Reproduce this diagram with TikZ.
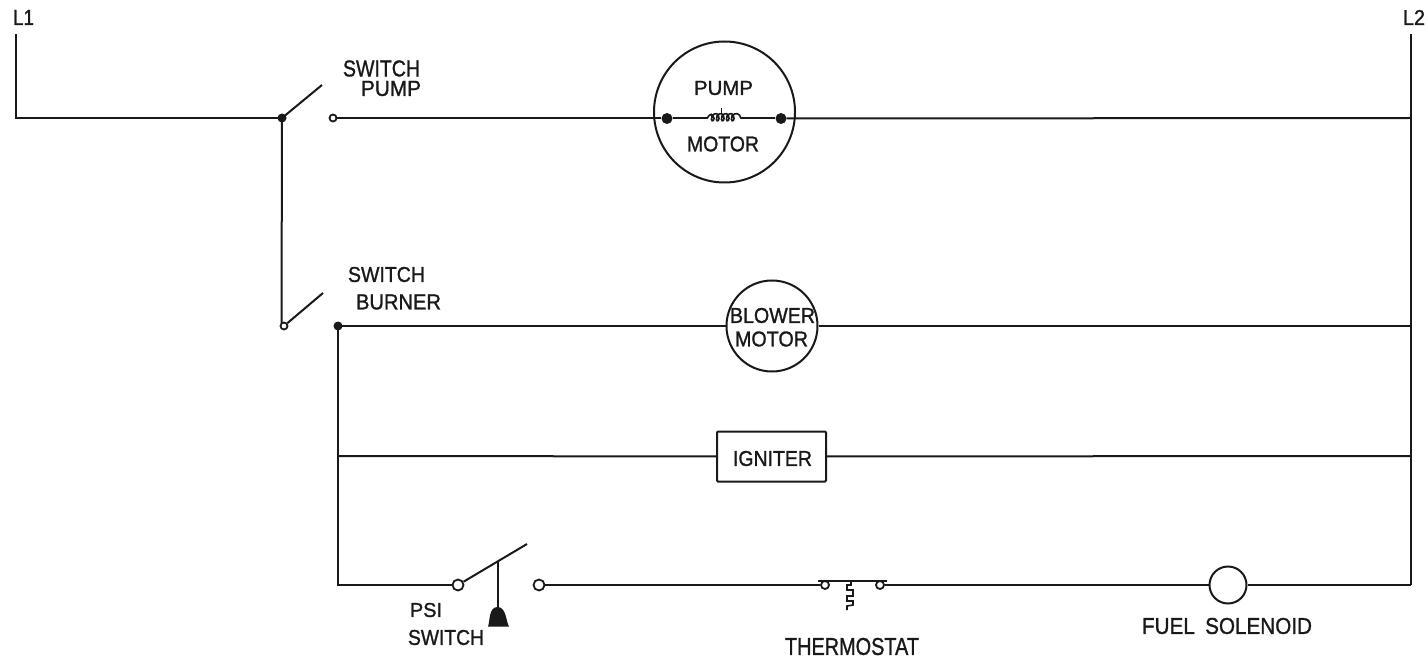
\documentclass[tikz,border=0pt]{standalone}
\usepackage{fontspec}
\setmainfont[FakeBold=1.2]{Liberation Sans}
\newcommand{\lab}[3]{\resizebox{#1pt}{#2pt}{#3}}
\tikzset{
  wire/.style={line width=2pt,black!90},
  thin wire/.style={line width=1.6pt,black!90},
  lbl/.style={inner sep=0pt,outer sep=0pt,text=black!90},
  contact/.style={circle,draw=black!90,line width=1.8pt,fill=white,inner sep=0pt,minimum size=#1pt},
  dot/.style={circle,fill=black!90,inner sep=0pt,minimum size=#1pt},
  ring/.style={circle,draw=black!90,line width=2pt,fill=none,inner sep=0pt,minimum size=#1pt},
}
\begin{document}
\begin{tikzpicture}[x=1pt,y=-1pt]
\useasboundingbox (0,0) rectangle (1428,663);
% rails
\coordinate (L1top) at (15.5,34);
\coordinate (L1c) at (15.5,118);
\coordinate (L2top) at (1411,34);
\coordinate (L2a) at (1411,118);
\coordinate (L2b) at (1411,326);
\coordinate (L2c) at (1411,456);
\coordinate (L2d) at (1411,585);
\node[lbl] (l1) at (23.5,17.5) {\lab{21}{15}{L1}};
\node[lbl] (l2) at (1414,17.5) {\lab{22}{15}{L2}};
% nodes
\node[dot=9] (j1) at (282,118) {};
\node[contact=7] (c1) at (333,118) {};
\node[contact=7] (s2) at (284,326) {};
\node[dot=9] (c2) at (338,326) {};
\coordinate (v2) at (281.5,323);
\coordinate (blade1) at (322,85);
\coordinate (blade2) at (323,293);
\coordinate (bot) at (338,585);
\coordinate (ign) at (338,456);
\node[ring=141] (pm) at (724.5,112) {};
\node[dot=11] (pl) at (667,118.5) {};
\node[dot=11] (pr) at (781,118.5) {};
\coordinate (cl) at (707,118.5);
\coordinate (cr) at (741,118.5);
\node[ring=91] (bm) at (772,326) {};
\node[draw=black!90,line width=2pt,minimum width=109pt,minimum height=50pt,inner sep=0pt,rounded corners=1pt] (ig) at (771.5,456.5) {};
\node[contact=11] (p1) at (458,585) {};
\node[contact=11] (p2) at (539,585) {};
\coordinate (pb) at (527,544);
\coordinate (rodtop) at (497.5,562);
\coordinate (rodbot) at (497.5,610);
\node[contact=8] (t1) at (825,585) {};
\node[contact=8] (t2) at (880,585) {};
\coordinate (tbl) at (818,581);
\coordinate (tbr) at (887,581);
\coordinate (tz) at (851,581);
\node[ring=37] (fs) at (1228,585) {};
% wires
\draw[wire,line join=miter] (L1top) -- (L1c) -- (j1.center);
\draw[wire] (L2top) -- (L2d);
\draw[wire] (j1.center) -- (blade1);
\draw[wire] (j1.center) -- (v2);
\draw[wire] (s2) -- (blade2);
\draw[wire] (c1) -- (pm.west |- c1);
\draw[wire] (pm.west |- pl) -- (pl);
\draw[wire] (pl) -- (cl);
\draw[wire] (cr) -- (pr);
\draw[wire] (pr) -- (L2a);
\draw[thin wire] (cl) .. controls (710,113) and (713,113) .. (714,118.5)
  .. controls (714,122) and (710,122) .. (712,116)
  .. controls (715,112) and (719,113) .. (719,118.5)
  .. controls (719,122) and (715,122) .. (717,116)
  .. controls (720,112) and (724,113) .. (724,118.5)
  .. controls (724,122) and (720,122) .. (722,116)
  .. controls (725,112) and (729,113) .. (729,118.5)
  .. controls (729,122) and (725,122) .. (727,116)
  .. controls (730,112) and (734,113) .. (734,118.5)
  .. controls (734,122) and (730,122) .. (732,116)
  .. controls (735,112) and (740,113) .. (cr);
\draw[line width=.7pt,black!90] (721.5,108) -- (721.5,114);
\draw[wire] (c2.center) -- (bm);
\draw[wire] (bm) -- (L2b);
\draw[wire] (c2.center) -- (bot) -- (p1);
\draw[wire] (ign) -- (ig);
\draw[wire] (ig) -- (L2c);
\draw[wire] (p1) -- (pb);
\draw[wire] (rodtop) -- (rodbot);
\draw[fill=black!90,draw=none] (488,626.5) .. controls (490,622) and (488.5,607) .. (497.5,607)
  .. controls (506.5,607) and (506,622) .. (509,626.5) -- cycle;
\draw[wire] (p2) -- (t1);
\draw[wire] (t2) -- (fs);
\draw[wire] (fs) -- (L2d);
\draw[wire] (tbl) -- (tbr);
\draw[thin wire] (tz) -- (851,585) -- (847,585) -- (847,590) -- (853,590) -- (853,596) -- (847,596) -- (847,601) -- (853,601) -- (853,605) -- (847,606) -- (847,610);
% labels
\node[lbl] (a1) at (381.5,68.5) {\lab{77}{16}{SWITCH}};
\node[lbl] (a2) at (391,88.5) {\lab{60}{15}{PUMP}};
\node[lbl] (a3) at (386.5,274.5) {\lab{77}{15}{SWITCH}};
\node[lbl] (a4) at (398.5,302) {\lab{85}{15}{BURNER}};
\node[lbl] (a5) at (723.5,88) {\lab{59}{14}{PUMP}};
\node[lbl] (a6) at (723,144) {\lab{72}{15}{MOTOR}};
\node[lbl] (a7) at (772.5,315.5) {\lab{85}{15}{BLOWER}};
\node[lbl] (a8) at (771.5,339) {\lab{73}{15}{MOTOR}};
\node[lbl] (a9) at (772.5,458.5) {\lab{79}{15}{IGNITER}};
\node[lbl] (a10) at (426,610) {\lab{32}{14}{PSI}};
\node[lbl] (a11) at (446,637.5) {\lab{76}{15}{SWITCH}};
\node[lbl] (a12) at (852,646.5) {\lab{134}{17}{THERMOSTAT}};
\node[lbl] (a13) at (1227,626) {\lab{170}{16}{FUEL\enspace SOLENOID}};
\end{tikzpicture}
\end{document}
